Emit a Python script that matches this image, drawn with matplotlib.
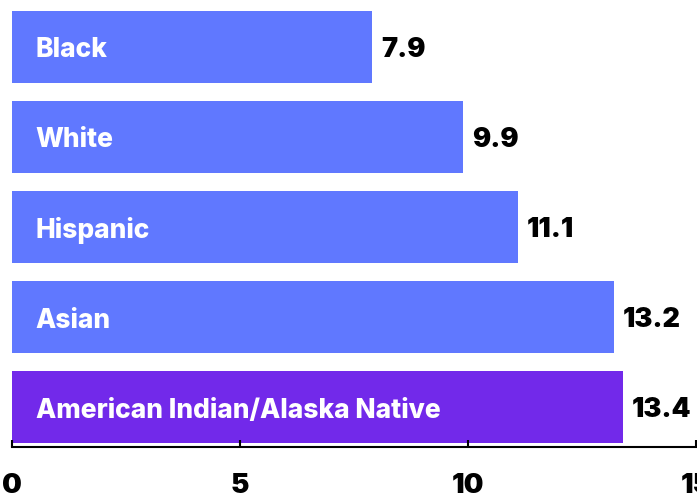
import matplotlib.pyplot as plt

groups = ["Black", "White", "Hispanic", "Asian", "American Indian/Alaska Native"]
values = [7.9, 9.9, 11.1, 13.2, 13.4]
bar_colors = ["#6078ff", "#6078ff", "#6078ff", "#6078ff", "#7229ea"]
xticks = [0, 5, 10, 15]

plt.rcParams['font.family'] = ['Inter', 'DejaVu Sans']

fig = plt.figure(figsize=(6.97, 5.0), dpi=100)
ax = fig.add_axes([12 / 697, 53 / 500, 684 / 697, 447 / 500])

pos = list(range(len(groups)))
ax.barh(pos, values, height=0.8, color=bar_colors)

for i, (g, v) in enumerate(zip(groups, values)):
    ax.annotate(g, (0, i), xytext=(17, -2.5), textcoords="offset points",
                ha="left", va="center", color="white", fontsize=19,
                fontweight=800)
    ax.annotate(f"{v}", (v, i), xytext=(6.5, -2), textcoords="offset points",
                ha="left", va="center", color="black", fontsize=19.5,
                fontweight="black")

ax.set_xlim(0, 15)
ax.set_ylim(4.44, -0.52)
ax.set_yticks([])
ax.set_xticks(xticks)
ax.set_xticklabels([str(t) for t in xticks], fontsize=20, fontweight="black")
ax.tick_params(axis="x", direction="in", length=5, width=1.5, pad=19)
for s in ["top", "left", "right"]:
    ax.spines[s].set_visible(False)
ax.spines["bottom"].set_linewidth(1.5)

fig.savefig("out.png", dpi=100)
